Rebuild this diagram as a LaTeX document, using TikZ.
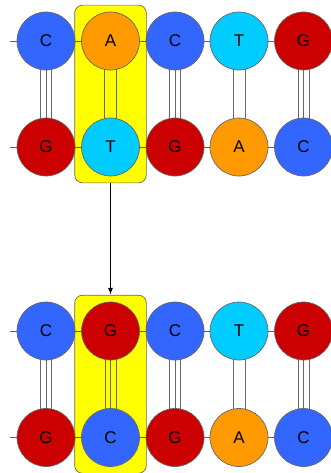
\documentclass[tikz,border=0pt]{standalone}
\usepackage{fontspec}
\setmainfont{Liberation Sans}
\usetikzlibrary{fit,arrows.meta}
\definecolor{colC}{HTML}{3366FF}
\definecolor{colG}{HTML}{CC0000}
\definecolor{colA}{HTML}{FF9900}
\definecolor{colT}{HTML}{00CCFF}
\definecolor{boxyellow}{HTML}{FFFF00}
\pgfdeclarelayer{back}
\pgfdeclarelayer{mid}
\pgfsetlayers{back,mid,main}
\begin{document}
\begin{tikzpicture}[x=1pt,y=-1pt,
  nuc/.style={circle,draw=black!60,line width=0.7pt,minimum size=58pt,inner sep=0pt,
    fill=col#1,font=\fontsize{17}{17}\selectfont},
  bond/.style={draw=black!60,line width=0.9pt},
  backbone/.style={draw=black!60,line width=0.7pt},
  hilite/.style={fill=boxyellow,draw=black!60,line width=0.7pt,rounded corners=8pt,inner sep=6.5pt},
  arr/.style={-{Latex[length=7pt,width=5pt]},line width=1pt,black}]
\useasboundingbox (0,0) rectangle (330,473);
% group 1
\foreach \i/\x/\a/\b/\n in {1/46/C/G/3, 2/110.5/A/T/2, 3/175/C/G/3, 4/239/T/A/2, 5/303.5/G/C/3}{
  \node[nuc=\a] (ta\i) at (\x,41) {\a};
  \node[nuc=\b] (ba\i) at (\x,147) {\b};
  \begin{pgfonlayer}{mid}
    \ifnum\n=3
      \foreach \o in {-5.5,0,5.5}{\draw[bond] ([xshift=\o pt]ta\i.center) -- ([xshift=\o pt]ba\i.center);}
    \else
      \foreach \o in {-6,6}{\draw[bond] ([xshift=\o pt]ta\i.center) -- ([xshift=\o pt]ba\i.center);}
    \fi
  \end{pgfonlayer}
}
% group 2
\foreach \i/\x/\a/\b/\n in {1/46/C/G/3, 2/110.5/G/C/3, 3/175/C/G/3, 4/239/T/A/2, 5/303.5/G/C/3}{
  \node[nuc=\a] (tb\i) at (\x,331) {\a};
  \node[nuc=\b] (bb\i) at (\x,437.5) {\b};
  \begin{pgfonlayer}{mid}
    \ifnum\n=3
      \foreach \o in {-5.5,0,5.5}{\draw[bond] ([xshift=\o pt]tb\i.center) -- ([xshift=\o pt]bb\i.center);}
    \else
      \foreach \o in {-6,6}{\draw[bond] ([xshift=\o pt]tb\i.center) -- ([xshift=\o pt]bb\i.center);}
    \fi
  \end{pgfonlayer}
}
\coordinate (la1) at (10,41);  \coordinate (ra1) at (340,41);
\coordinate (lb1) at (10,147); \coordinate (rb1) at (340,147);
\coordinate (la2) at (10,331);  \coordinate (ra2) at (340,331);
\coordinate (lb2) at (10,437.5); \coordinate (rb2) at (340,437.5);
\begin{pgfonlayer}{mid}
  \draw[backbone] (la1) -- (ta1) -- (ta2) -- (ta3) -- (ta4) -- (ta5) -- (ra1);
  \draw[backbone] (lb1) -- (ba1) -- (ba2) -- (ba3) -- (ba4) -- (ba5) -- (rb1);
  \draw[backbone] (la2) -- (tb1) -- (tb2) -- (tb3) -- (tb4) -- (tb5) -- (ra2);
  \draw[backbone] (lb2) -- (bb1) -- (bb2) -- (bb3) -- (bb4) -- (bb5) -- (rb2);
\end{pgfonlayer}
\begin{pgfonlayer}{back}
  \node[hilite,fit=(ta2)(ba2)] (box1) {};
  \node[hilite,fit=(tb2)(bb2)] (box2) {};
\end{pgfonlayer}
\draw[arr] (box1.south) -- (box2.north);
\end{tikzpicture}
\end{document}
